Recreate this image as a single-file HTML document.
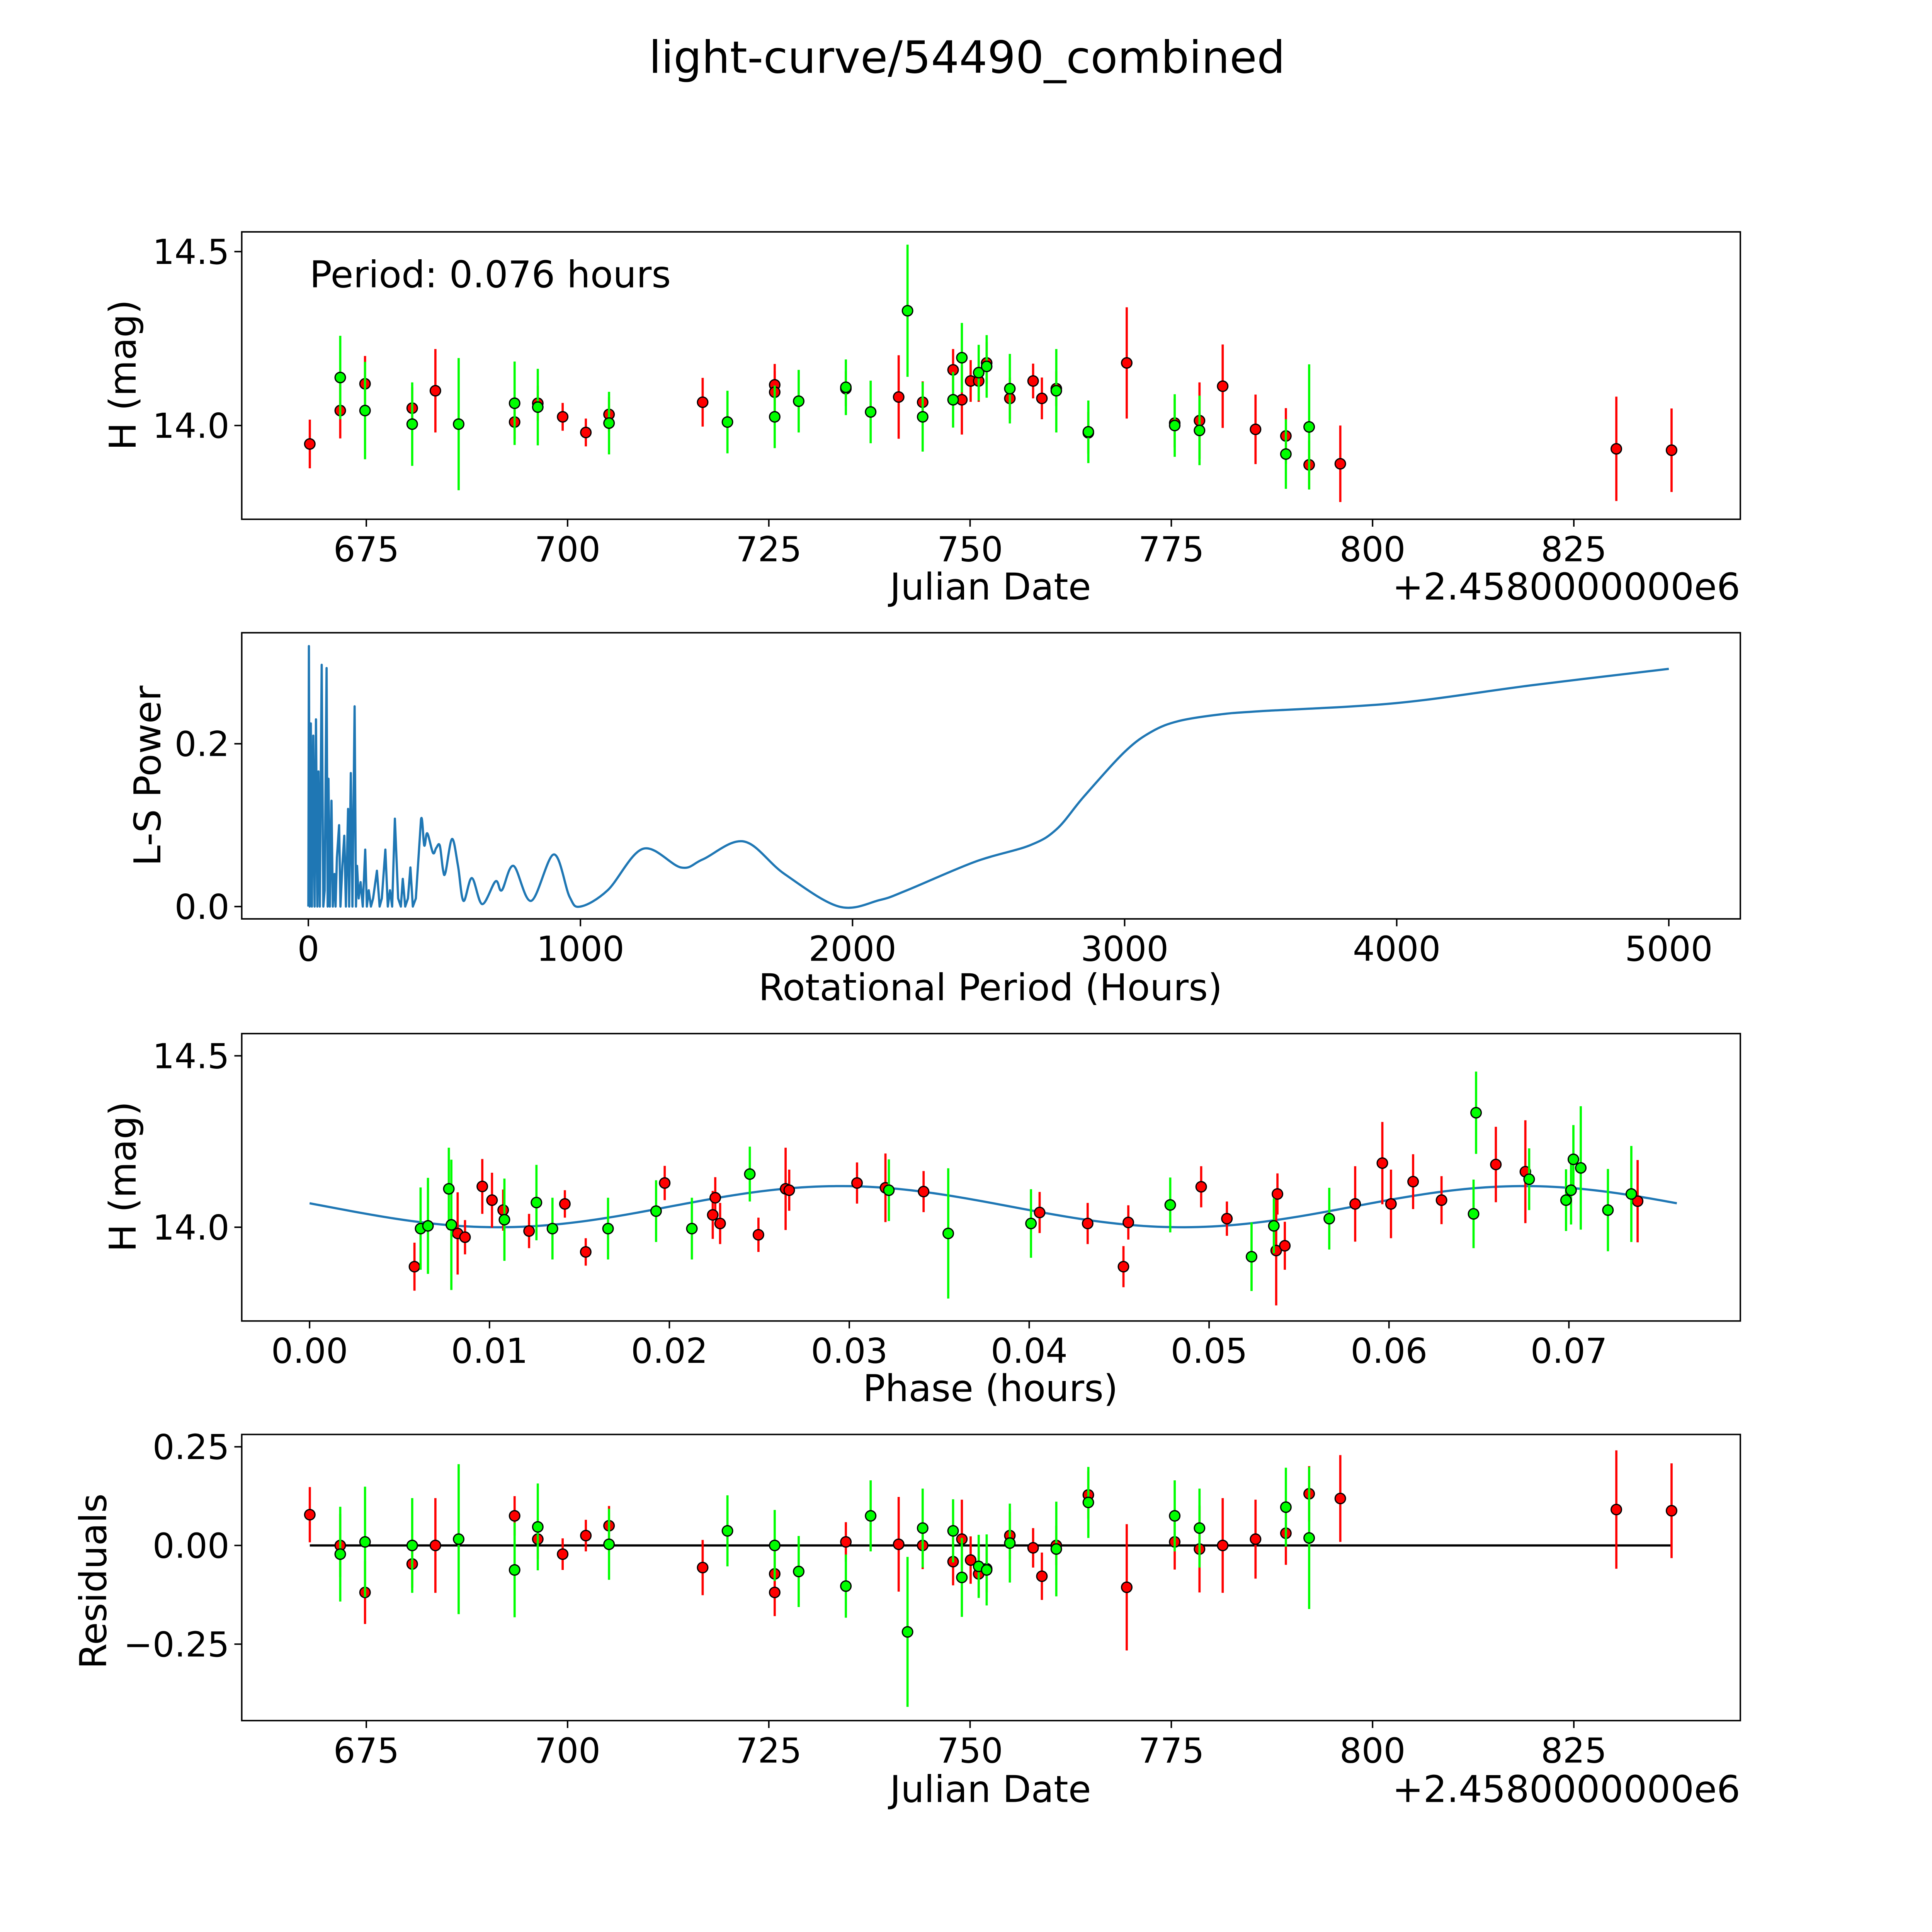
<!DOCTYPE html>
<html><head><meta charset="utf-8"><style>
html,body{margin:0;padding:0;background:#fff;overflow:hidden;}
svg{display:block;position:absolute;left:0;top:0;font-family:"DejaVu Sans","Liberation Sans",sans-serif;}
</style></head><body>
<svg id="fig" width="5400" height="5400" viewBox="0 0 1691.7 1691.7" xmlns="http://www.w3.org/2000/svg">
<rect width="1700" height="1700" fill="#fff"/>
<text x="784" y="59" font-size="36" text-anchor="middle">light-curve/54490_combined</text>
</svg>
<script>
// ---------- data ----------
const redDates=[667.98,671.76,674.84,680.70,683.58,693.42,696.30,699.39,702.27,705.15,716.78,725.73,725.73,734.57,741.13,744.11,747.89,748.98,750.07,751.07,752.06,754.94,757.83,758.92,760.71,764.69,769.46,775.42,778.50,781.38,785.46,789.23,792.12,795.99,830.28,837.14];
const redMags=[13.947,14.043,14.12,14.05,14.10,14.01,14.064,14.025,13.98,14.032,14.067,14.117,14.096,14.106,14.082,14.067,14.16,14.074,14.128,14.128,14.18,14.078,14.128,14.078,14.106,13.979,14.18,14.007,14.014,14.113,13.989,13.97,13.887,13.89,13.933,13.929];
const redErrs=[0.07,0.08,0.08,0.06,0.12,0.05,0.05,0.04,0.04,0.05,0.07,0.06,0.06,0.05,0.12,0.06,0.06,0.10,0.06,0.06,0.06,0.06,0.05,0.06,0.05,0.06,0.16,0.07,0.11,0.12,0.10,0.08,0.07,0.11,0.15,0.12];
const greenDates=[671.76,674.84,680.70,686.47,693.42,696.30,705.15,719.86,725.73,728.71,734.57,737.65,742.23,744.11,747.89,748.98,751.07,752.06,754.94,760.71,764.69,775.42,778.50,789.23,792.12];
const greenMags=[14.138,14.043,14.004,14.004,14.064,14.053,14.007,14.01,14.025,14.07,14.11,14.039,14.33,14.025,14.074,14.195,14.152,14.17,14.106,14.10,13.982,14.0,13.986,13.918,13.996];
const greenErrs=[0.12,0.14,0.12,0.19,0.12,0.11,0.09,0.09,0.09,0.09,0.08,0.09,0.19,0.10,0.08,0.10,0.08,0.09,0.10,0.12,0.09,0.09,0.10,0.10,0.18];
const redResid=[0.078,0.0,-0.119,-0.047,0.0,0.075,0.016,-0.022,0.025,0.05,-0.056,-0.072,-0.119,0.009,0.003,0.0,-0.041,0.016,-0.037,-0.072,-0.059,0.025,-0.006,-0.078,0.0,0.128,-0.106,0.009,-0.009,0.0,0.016,0.031,0.131,0.119,0.091,0.088];
const greenResid=[-0.022,0.009,0.0,0.016,-0.062,0.047,0.003,0.037,0.0,-0.066,-0.103,0.075,-0.219,0.044,0.037,-0.081,-0.053,-0.062,0.006,-0.009,0.109,0.075,0.044,0.097,0.019];
const redPhase=[0.00583,0.00960,0.01014,0.01076,0.00823,0.00864,0.01220,0.01419,0.01535,0.01974,0.02241,0.02255,0.02282,0.02495,0.02646,0.02666,0.03043,0.03201,0.03413,0.04058,0.04325,0.04524,0.04551,0.04956,0.05099,0.05380,0.05373,0.05421,0.05812,0.05963,0.06011,0.06134,0.06292,0.06594,0.06758,0.07382];
const redPhaseMags=[13.885,14.119,14.079,14.05,13.982,13.971,13.989,14.068,13.928,14.129,14.036,14.086,14.011,13.978,14.112,14.108,14.129,14.115,14.104,14.043,14.011,13.885,14.014,14.118,14.025,14.097,13.932,13.946,14.068,14.187,14.068,14.133,14.079,14.183,14.162,14.076];
const greenPhase=[0.00617,0.00658,0.00774,0.00788,0.01083,0.01261,0.01350,0.01659,0.01926,0.02125,0.02447,0.03220,0.03550,0.04010,0.04784,0.05236,0.05360,0.05668,0.06470,0.06484,0.06779,0.06984,0.07012,0.07025,0.07066,0.07217,0.07347];
const greenPhaseMags=[13.996,14.004,14.112,14.007,14.022,14.072,13.996,13.996,14.047,13.996,14.155,14.108,13.982,14.011,14.065,13.914,14.004,14.025,14.039,14.334,14.140,14.079,14.108,14.198,14.173,14.050,14.097];
const lsPeriods=[0,2,5,9,13,18,23,28,33,37,42,49,55,60,67,71,74,79,85,90,96,100,105,113,118,125,132,138,146,150,156,162,170,175,179,185,192,200,209,215,222,230,238,252,262,270,283,292,300,308,318,330,340,347,356,366,375,384,395,414,426,437,458,470,483,495,504,528,550,570,601,639,688,711,754,819,902,960,1000,1100,1230,1370,1450,1600,1750,1950,2100,2200,2450,2650,2750,2850,3000,3100,3200,3350,3500,4000,4500,5000];
const lsPower=[0,0.32,0,0.225,0,0.21,0,0.23,0,0.166,0,0.297,0,0.02,0.293,0,0.157,0,0.13,0,0.04,0,0.06,0.1,0,0.05,0.087,0,0.12,0,0.164,0,0.246,0,0.05,0.01,0.03,0,0.07,0,0.02,0,0.01,0.044,0,0.01,0.07,0,0.02,0,0.108,0.01,0,0.034,0,0.01,0.048,0,0.01,0.107,0.075,0.09,0.066,0.072,0.075,0.045,0.042,0.083,0.05,0.007,0.035,0.003,0.031,0.02,0.05,0.007,0.064,0.012,0,0.02,0.071,0.048,0.058,0.08,0.04,0,0.008,0.02,0.055,0.075,0.095,0.135,0.19,0.215,0.228,0.236,0.24,0.25,0.272,0.292];
const modelMean=14.06, modelAmp=0.06, modelPeriod=0.076, modelPhase0=0.0105;
const jdTicks=[675,700,725,750,775,800,825];
const magTicks=[14.0,14.5];
const lsXTicks=[0,1000,2000,3000,4000,5000];
const lsYTicks=[0.0,0.2];
const phaseTicks=[0.00,0.01,0.02,0.03,0.04,0.05,0.06,0.07];
const residTicks=[-0.25,0.00,0.25];

// ---------- helpers ----------
const NS="http://www.w3.org/2000/svg";
const svg=document.getElementById('fig');
function mk(tag,attrs,parent){const e=document.createElementNS(NS,tag);for(const k in attrs)e.setAttribute(k,attrs[k]);(parent||svg).appendChild(e);return e;}
function lin(d0,d1,p0,p1){return v=>p0+(v-d0)*(p1-p0)/(d1-d0);}
const L=196,R=1411;
function frame(name){const g=mk('g',{});return g;}
function axisBox(g,top,bot){const r=mk('rect',{x:L,y:top,width:R-L,height:bot-top,fill:'none',stroke:'#000','stroke-width':1.2},g);}
function xTicks(g,ticks,sx,bot,fmt){ticks.forEach(t=>{const x=sx(t);const l=mk('line',{x1:x,x2:x,y1:bot,y2:bot+6,stroke:'#000','stroke-width':1.2},g);const tx=mk('text',{x:x,y:bot+34,'font-size':28,'text-anchor':'middle'},g);tx.textContent=fmt(t);});}
function yTicks(g,ticks,sy,fmt){ticks.forEach(t=>{const y=sy(t);const l=mk('line',{x1:L-6,x2:L,y1:y,y2:y,stroke:'#000','stroke-width':1.2},g);const tx=mk('text',{x:L-10,y:y+10,'font-size':28,'text-anchor':'end'},g);tx.textContent=fmt(t);});}
function label(g,txt,x,y,rot,name,anchor){const t=mk('text',{x:x,y:y,'font-size':30,'text-anchor':anchor||'middle'},g);if(rot)t.setAttribute('transform','rotate(-90 '+x+' '+y+')');t.textContent=txt;}
function points(g,xs,ys,es,sx,sy,color,name){const col=color==='red'?'#ff0000':'#00ff00';xs.forEach((xv,i)=>{const x=sx(xv);const e=es[i%es.length];const l=mk('line',{x1:x,x2:x,y1:sy(ys[i]-e),y2:sy(ys[i]+e),stroke:col,'stroke-width':1.8},g);});
 xs.forEach((xv,i)=>{const c=mk('circle',{cx:sx(xv),cy:sy(ys[i]),r:4.2,fill:col,stroke:'#000','stroke-width':1},g);});}
const f1=v=>v.toFixed(1), f0=v=>String(v), f2=v=>(v<0?'\u2212':'')+Math.abs(v).toFixed(2);

// ---------- panel 1 ----------
{const top=188,bot=421;const g=frame('light-curve-panel');
const sx=lin(675,825,297,1276), sy=lin(14.0,14.5,345,204);
axisBox(g,top,bot);
points(g,redDates,redMags,redErrs,sx,sy,'red','red-band');
points(g,greenDates,greenMags,greenErrs,sx,sy,'green','green-band');
xTicks(g,jdTicks,sx,bot,f0);yTicks(g,magTicks,sy,f1);
label(g,'Julian Date',803,486,false,'x-axis-title');
label(g,'+2.4580000000e6',1411,486,false,'x-axis-offset','end');
label(g,'H (mag)',110,304,true,'y-axis-title');
const t=mk('text',{x:251,y:233,'font-size':30},g);t.textContent='Period: 0.076 hours';}

// ---------- panel 2 ----------
{const top=513,bot=745;const g=frame('periodogram-panel');
const sx=lin(0,1000,250,470.6), sy=lin(0,0.2,735,603);
axisBox(g,top,bot);
const P=lsPeriods.map((p,i)=>[sx(p),sy(lsPower[i])]);
let d='M'+P[0][0].toFixed(2)+' '+P[0][1].toFixed(2);
for(let i=0;i<P.length-1;i++){const p0=P[Math.max(0,i-1)],p1=P[i],p2=P[i+1],p3=P[Math.min(P.length-1,i+2)];
 if(lsPeriods[i]<400){d+=' L'+p2[0].toFixed(2)+' '+p2[1].toFixed(2);continue;}
 const c1=[p1[0]+(p2[0]-p0[0])/6,p1[1]+(p2[1]-p0[1])/6],c2=[p2[0]-(p3[0]-p1[0])/6,p2[1]-(p3[1]-p1[1])/6];
 d+=' C'+c1[0].toFixed(2)+' '+c1[1].toFixed(2)+' '+c2[0].toFixed(2)+' '+c2[1].toFixed(2)+' '+p2[0].toFixed(2)+' '+p2[1].toFixed(2);}
const p=mk('path',{d:d,fill:'none',stroke:'#1f77b4','stroke-width':1.8,'stroke-linejoin':'round'},g);
xTicks(g,lsXTicks,sx,bot,f0);yTicks(g,lsYTicks,sy,f1);
label(g,'Rotational Period (Hours)',803,811,false,'x-axis-title');
label(g,'L-S Power',130,629,true,'y-axis-title');}

// ---------- panel 3 ----------
{const top=838,bot=1071;const g=frame('phase-panel');
const sx=lin(0,0.07,251,1272), sy=lin(14.0,14.5,995,856);
axisBox(g,top,bot);
let d='';for(let i=0;i<=200;i++){const ph=modelPeriod*i/200;const m=modelMean-modelAmp*Math.cos(4*Math.PI*(ph-modelPhase0)/modelPeriod);d+=(i?'L':'M')+sx(ph).toFixed(2)+' '+sy(m).toFixed(2)+' ';}
const c=mk('path',{d:d,fill:'none',stroke:'#1f77b4','stroke-width':1.8},g);
points(g,redPhase,redPhaseMags,redErrs,sx,sy,'red','red-phase');
points(g,greenPhase,greenPhaseMags,greenErrs,sx,sy,'green','green-phase');
xTicks(g,phaseTicks,sx,bot,v=>v.toFixed(2));yTicks(g,magTicks,sy,f1);
label(g,'Phase (hours)',803,1136,false,'x-axis-title');
label(g,'H (mag)',110,954,true,'y-axis-title');}

// ---------- panel 4 ----------
{const top=1163,bot=1395;const g=frame('residuals-panel');
const sx=lin(675,825,297,1276), sy=lin(0,0.25,1253,1173);
axisBox(g,top,bot);
const z=mk('line',{x1:sx(redDates[0]),x2:sx(redDates[redDates.length-1]),y1:sy(0),y2:sy(0),stroke:'#000','stroke-width':1.8},g);
points(g,redDates,redResid,redErrs,sx,sy,'red','red-residual');
points(g,greenDates,greenResid,greenErrs,sx,sy,'green','green-residual');
xTicks(g,jdTicks,sx,bot,f0);yTicks(g,residTicks,sy,f2);
label(g,'Julian Date',803,1461,false,'x-axis-title');
label(g,'+2.4580000000e6',1411,1461,false,'x-axis-offset','end');
label(g,'Residuals',86,1282,true,'y-axis-title');}
</script>
</body></html>
